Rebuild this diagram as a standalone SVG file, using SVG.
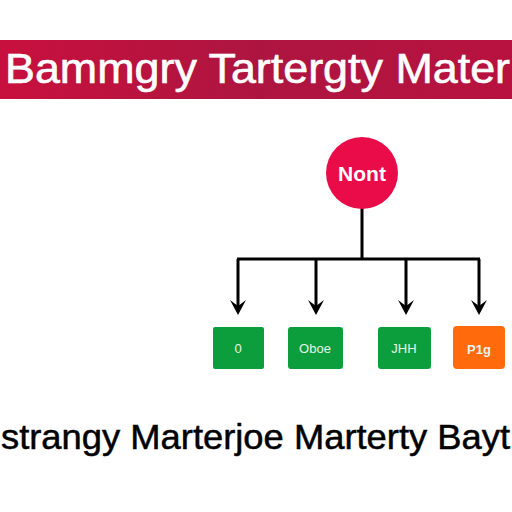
<svg xmlns="http://www.w3.org/2000/svg" width="512" height="512" viewBox="0 0 512 512">
<style>
.title{font-family:"Liberation Sans",Arial,sans-serif;font-size:42px;fill:#fff;stroke:#fff;stroke-width:0.6}
.foot{font-family:"Liberation Sans",Arial,sans-serif;font-size:35px;fill:#000;stroke:#000;stroke-width:0.5}
.box{fill:#0c9e3c}
.lbl{font-family:"Liberation Sans",Arial,sans-serif;font-size:13px;fill:#e8f5e8;text-anchor:middle}
.wire{fill:none;stroke:#000;stroke-width:3}
</style>
<defs>
<linearGradient id="bg" x1="0" x2="1" y1="0" y2="0">
<stop offset="0" stop-color="#c8103e"/>
<stop offset="0.5" stop-color="#ad1540"/>
<stop offset="1" stop-color="#b8123f"/>
</linearGradient>
</defs>
<rect width="512" height="512" fill="#fff"/>
<g id="banner">
<rect x="0" y="40" width="512" height="59" fill="url(#bg)"/>
<text class="title" x="5" y="83" textLength="505" lengthAdjust="spacingAndGlyphs">Bammgry Tartergty Mater</text>
</g>
<g id="connectors">
<path class="wire" d="M362,207 V259 M237,259 H480"/>
<path class="wire" d="M238,259 V306"/>
<path class="wire" d="M316,259 V306"/>
<path class="wire" d="M406,259 V306"/>
<path class="wire" d="M479,259 V306"/>
<path d="M230,300 L238,315 L246,300 L238,306 Z" fill="#000"/>
<path d="M308,300 L316,315 L324,300 L316,306 Z" fill="#000"/>
<path d="M398,300 L406,315 L414,300 L406,306 Z" fill="#000"/>
<path d="M471,300 L479,315 L487,300 L479,306 Z" fill="#000"/>
</g>
<g id="root">
<circle cx="362" cy="173" r="36" fill="#ea0c48"/>
<text x="362" y="181" font-family="Liberation Sans,Arial,sans-serif" font-size="21" font-weight="bold" fill="#fff" text-anchor="middle">Nont</text>
</g>
<g id="n1">
<rect class="box" x="213" y="327" width="51" height="42" rx="2"/>
<text class="lbl" x="238" y="353">0</text>
</g>
<g id="n2">
<rect class="box" x="288" y="327" width="55" height="42" rx="3"/>
<text class="lbl" x="315" y="353">Oboe</text>
</g>
<g id="n3">
<rect class="box" x="378" y="327" width="53" height="42" rx="3"/>
<text class="lbl" x="404" y="353" font-size="11">JHH</text>
</g>
<g id="n4">
<rect x="453" y="326" width="52" height="43" rx="4" fill="#ff6a0c"/>
<text class="lbl" x="479" y="354" font-size="15" font-weight="bold">P1g</text>
</g>
<g id="footer">
<text class="foot" x="1" y="449" textLength="509" lengthAdjust="spacingAndGlyphs">strangy Marterjoe Marterty Bayt</text>
</g>
</svg>
